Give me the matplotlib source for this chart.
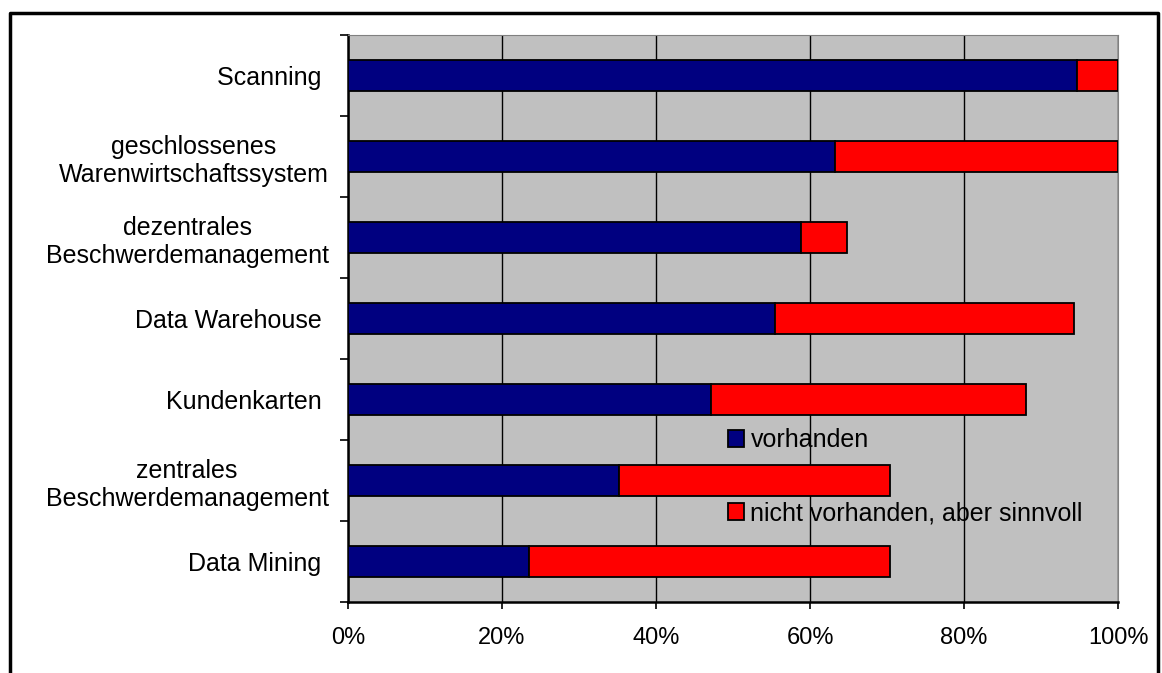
import matplotlib.pyplot as plt
from matplotlib.lines import Line2D
import numpy as np

plt.rcParams['font.family'] = ['Liberation Sans', 'DejaVu Sans']

kategorien = ['Scanning ',
              'geschlossenes\nWarenwirtschaftssystem',
              'dezentrales\nBeschwerdemanagement',
              'Data Warehouse ',
              'Kundenkarten ',
              'zentrales\nBeschwerdemanagement',
              'Data Mining ']
vorhanden = [94.7, 63.2, 58.8, 55.5, 47.1, 35.2, 23.5]
sinnvoll = [5.3, 36.8, 6.0, 38.8, 41.0, 35.2, 46.9]
x_ticks = [0, 20, 40, 60, 80, 100]

fs = 18

fig = plt.figure(figsize=(11.62, 6.73), dpi=100)
ax = fig.add_axes([348 / 1162, 1 - 602 / 673, 770 / 1162, 567 / 673])
ax.set_facecolor('#c0c0c0')

y = np.arange(len(kategorien))[::-1]
b1 = ax.barh(y, vorhanden, height=0.39, color='#000080', edgecolor='black',
             linewidth=1.3, zorder=3, label='vorhanden')
b2 = ax.barh(y, sinnvoll, left=vorhanden, height=0.39, color='#ff0000',
             edgecolor='black', linewidth=1.3, zorder=3,
             label='nicht vorhanden, aber sinnvoll')

ax.set_xlim(0, 100)
ax.set_ylim(-0.5, len(kategorien) - 0.5)
ax.set_xticks(x_ticks)
ax.set_xticklabels([f'{v}%' for v in x_ticks], fontsize=17)
ax.xaxis.grid(True, color='black', linewidth=1, zorder=1)
ax.set_axisbelow(True)

# Striche zwischen den Kategorien, Beschriftung mittig
ax.set_yticks(np.arange(-0.5, len(kategorien), 1.0))
ax.set_yticklabels([])
ax.set_yticks(y, minor=True)
ax.set_yticklabels(kategorien, minor=True, fontsize=fs)
for t in ax.get_yticklabels(minor=True):
    t.set_multialignment('center')
ax.tick_params(axis='y', which='minor', length=0, pad=14)
ax.tick_params(axis='y', which='major', length=6, width=1.2, color='black')
ax.tick_params(axis='x', length=5, width=1.2, pad=13)

for s in ['top', 'right']:
    ax.spines[s].set_color('#808080')
for s in ['left', 'bottom']:
    ax.spines[s].set_color('black')
    ax.spines[s].set_linewidth(1.8)

leg_kw = dict(frameon=False, fontsize=fs, handlelength=0.65, handleheight=0.65,
              handletextpad=0.25, borderaxespad=0, borderpad=0)
leg1 = ax.legend(handles=[b1], loc='center left',
                 bbox_to_anchor=(0.4935, 0.285), **leg_kw)
ax.add_artist(leg1)
ax.legend(handles=[b2], loc='center left',
          bbox_to_anchor=(0.4935, 0.156), **leg_kw)

# Rahmen um das Diagramm
fx = [10 / 1162, 10 / 1162, 1158 / 1162, 1158 / 1162]
fy = [0, 1 - 12.5 / 673, 1 - 12.5 / 673, 0]
fig.add_artist(Line2D(fx, fy, color='black', linewidth=2.5,
                      transform=fig.transFigure))

fig.savefig('out.png', dpi=100)
